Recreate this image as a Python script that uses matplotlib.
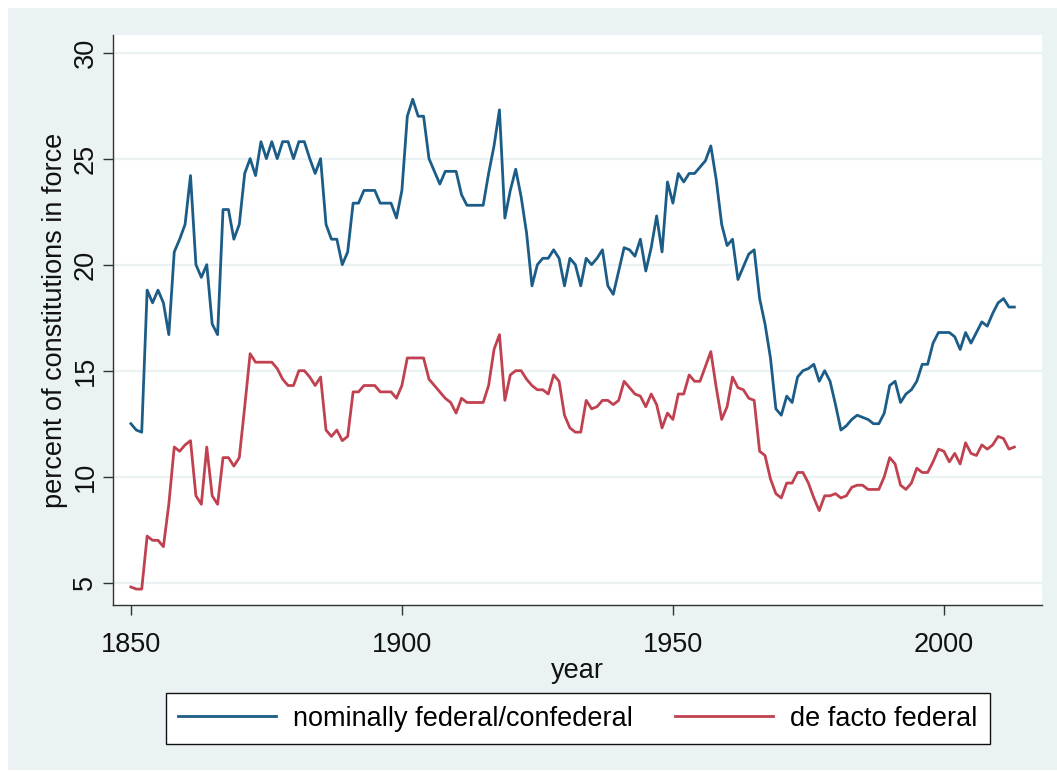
import matplotlib
matplotlib.use("Agg")
import matplotlib.pyplot as plt
import matplotlib.patches as mpatches
import numpy as np

years = np.arange(1850, 2014)

nominal = [
    12.5, 12.2, 12.1, 18.8, 18.2, 18.8, 18.2, 16.7, 20.6, 21.2,  # 1850s
    21.9, 24.2, 20.0, 19.4, 20.0, 17.2, 16.7, 22.6, 22.6, 21.2,  # 1860s
    21.9, 24.3, 25.0, 24.2, 25.8, 25.0, 25.8, 25.0, 25.8, 25.8,  # 1870s
    25.0, 25.8, 25.8, 25.0, 24.3, 25.0, 21.9, 21.2, 21.2, 20.0,  # 1880s
    20.6, 22.9, 22.9, 23.5, 23.5, 23.5, 22.9, 22.9, 22.9, 22.2,  # 1890s
    23.5, 27.0, 27.8, 27.0, 27.0, 25.0, 24.4, 23.8, 24.4, 24.4,  # 1900s
    24.4, 23.3, 22.8, 22.8, 22.8, 22.8, 24.3, 25.6, 27.3, 22.2,  # 1910s
    23.5, 24.5, 23.2, 21.5, 19.0, 20.0, 20.3, 20.3, 20.7, 20.3,  # 1920s
    19.0, 20.3, 20.0, 19.0, 20.3, 20.0, 20.3, 20.7, 19.0, 18.6,  # 1930s
    19.7, 20.8, 20.7, 20.4, 21.2, 19.7, 20.8, 22.3, 20.6, 23.9,  # 1940s
    22.9, 24.3, 23.9, 24.3, 24.3, 24.6, 24.9, 25.6, 24.0, 21.9,  # 1950s
    20.9, 21.2, 19.3, 19.9, 20.5, 20.7, 18.4, 17.2, 15.6, 13.2,  # 1960s
    12.9, 13.8, 13.5, 14.7, 15.0, 15.1, 15.3, 14.5, 15.0, 14.5,  # 1970s
    13.4, 12.2, 12.4, 12.7, 12.9, 12.8, 12.7, 12.5, 12.5, 13.0,  # 1980s
    14.3, 14.5, 13.5, 13.9, 14.1, 14.5, 15.3, 15.3, 16.3, 16.8,  # 1990s
    16.8, 16.8, 16.6, 16.0, 16.8, 16.3, 16.8, 17.3, 17.1, 17.7,  # 2000s
    18.2, 18.4, 18.0, 18.0,                                      # 2010s
]

de_facto = [
    4.8, 4.7, 4.7, 7.2, 7.0, 7.0, 6.7, 8.7, 11.4, 11.2,  # 1850s
    11.5, 11.7, 9.1, 8.7, 11.4, 9.1, 8.7, 10.9, 10.9, 10.5,  # 1860s
    10.9, 13.3, 15.8, 15.4, 15.4, 15.4, 15.4, 15.1, 14.6, 14.3,  # 1870s
    14.3, 15.0, 15.0, 14.7, 14.3, 14.7, 12.2, 11.9, 12.2, 11.7,  # 1880s
    11.9, 14.0, 14.0, 14.3, 14.3, 14.3, 14.0, 14.0, 14.0, 13.7,  # 1890s
    14.3, 15.6, 15.6, 15.6, 15.6, 14.6, 14.3, 14.0, 13.7, 13.5,  # 1900s
    13.0, 13.7, 13.5, 13.5, 13.5, 13.5, 14.3, 16.0, 16.7, 13.6,  # 1910s
    14.8, 15.0, 15.0, 14.6, 14.3, 14.1, 14.1, 13.9, 14.8, 14.5,  # 1920s
    12.9, 12.3, 12.1, 12.1, 13.6, 13.2, 13.3, 13.6, 13.6, 13.4,  # 1930s
    13.6, 14.5, 14.2, 13.9, 13.8, 13.3, 13.9, 13.4, 12.3, 13.0,  # 1940s
    12.7, 13.9, 13.9, 14.8, 14.5, 14.5, 15.2, 15.9, 14.2, 12.7,  # 1950s
    13.3, 14.7, 14.2, 14.1, 13.7, 13.6, 11.2, 11.0, 9.9, 9.2,  # 1960s
    9.0, 9.7, 9.7, 10.2, 10.2, 9.7, 9.0, 8.4, 9.1, 9.1,  # 1970s
    9.2, 9.0, 9.1, 9.5, 9.6, 9.6, 9.4, 9.4, 9.4, 10.0,  # 1980s
    10.9, 10.6, 9.6, 9.4, 9.7, 10.4, 10.2, 10.2, 10.7, 11.3,  # 1990s
    11.2, 10.7, 11.1, 10.6, 11.6, 11.1, 11.0, 11.5, 11.3, 11.5,  # 2000s
    11.9, 11.8, 11.3, 11.4,  # 2010s
]

series_labels = ["nominally federal/confederal", "de facto federal"]
y_ticks = [5, 10, 15, 20, 25, 30]
x_ticks = [1850, 1900, 1950, 2000]

BG = "#eaf2f3"
BLUE = "#1c5d88"
RED = "#c0414f"
FONT = "Liberation Sans"
FS = 19.5

plt.rcParams["font.family"] = [FONT, "DejaVu Sans"]

W, H = 1057, 771
fig = plt.figure(figsize=(W / 100, H / 100), dpi=100)
fig.patch.set_facecolor("white")
fig.patches.append(mpatches.Rectangle((8 / W, 1 / H), 1 - 8 / W, 1 - 9 / H,
                                      transform=fig.transFigure, facecolor=BG,
                                      edgecolor="none", zorder=-10))

ax = fig.add_axes([113 / W, 1 - 605 / H, (1042 - 113) / W, (605 - 35) / H])
ax.set_facecolor("white")

for v in y_ticks:
    ax.axhline(v, color=BG, lw=1.6, zorder=0)

ax.plot(years, nominal, color=BLUE, lw=2.0, label=series_labels[0])
ax.plot(years, de_facto, color=RED, lw=2.0, label=series_labels[1])

ax.set_xlim(1846.7, 2018.1)
ax.set_ylim(3.95, 30.83)
ax.set_xticks(x_ticks)
ax.set_yticks(y_ticks)

for side in ("top", "right"):
    ax.spines[side].set_visible(False)
for side in ("left", "bottom"):
    ax.spines[side].set_color("#333333")
    ax.spines[side].set_linewidth(1.0)

ax.tick_params(axis="both", direction="out", length=7.5, width=1.0,
               color="#333333", labelsize=FS, labelcolor="#111111")
ax.tick_params(axis="x", pad=12)
ax.tick_params(axis="y", pad=3)
plt.setp(ax.get_yticklabels(), rotation=90, va="center")

ax.set_xlabel("year", fontsize=FS, color="#111111", labelpad=0)
ax.set_ylabel("percent of constitutions in force", fontsize=FS,
              color="#111111", labelpad=3)

leg = fig.legend(loc="center", bbox_to_anchor=(578 / W, 1 - 718.5 / H),
                 ncol=2, fontsize=FS, frameon=True, fancybox=False,
                 edgecolor="#111111", facecolor="white", framealpha=1,
                 handlelength=3.6, handletextpad=0.65, columnspacing=1.55,
                 borderpad=0.45)
leg.get_frame().set_linewidth(1.0)

fig.savefig("out.png", dpi=100, facecolor=fig.get_facecolor())
